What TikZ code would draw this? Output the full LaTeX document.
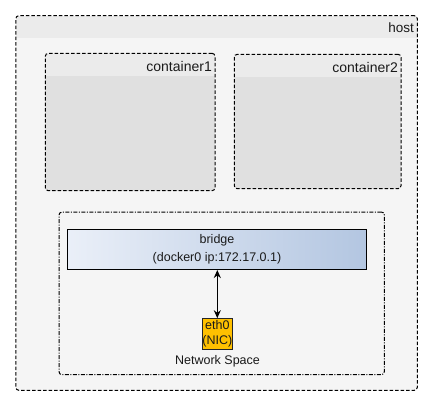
\documentclass[tikz,border=0pt]{standalone}
\usepackage{fontspec}
\setmainfont{Liberation Sans}
\usetikzlibrary{arrows.meta}
\definecolor{bandgray}{HTML}{EBEBEB}
\definecolor{hostbody}{HTML}{F5F5F5}
\definecolor{contbody}{HTML}{E0E0E0}
\definecolor{bridgeL}{HTML}{EAEFF8}
\definecolor{bridgeR}{HTML}{B3C6E1}
\definecolor{nicfill}{HTML}{FFC000}
\definecolor{txt}{HTML}{1A1A1A}
\tikzset{
  groupbox/.style={draw=black, line width=1pt, dash pattern=on 3.5pt off 2pt, rounded corners=3pt, inner sep=0pt},
  netbox/.style={draw=black, line width=1pt, dash pattern=on 4pt off 1.5pt on 1pt off 1.5pt, rounded corners=3pt, fill=hostbody, inner sep=0pt},
  bridgebox/.style={draw=black, line width=1pt, left color=bridgeL, right color=bridgeR, inner sep=0pt, align=center, text=txt, font=\fontsize{12.5}{18}\selectfont},
  nicbox/.style={draw=black!85, line width=1pt, fill=nicfill, inner sep=0pt, align=center, text=txt, font=\fontsize{12.5}{14.5}\selectfont},
  titletext/.style={text=txt, inner sep=0pt, anchor=east},
  link/.style={line width=1.2pt, {Stealth[length=8pt,width=7pt]}-{Stealth[length=8pt,width=7pt]}}
}
\begin{document}
\begin{tikzpicture}[x=1pt,y=-1pt]
\useasboundingbox (0,0) rectangle (433,405);
% host
\node[minimum width=401.5pt, minimum height=374.6pt, inner sep=0pt] (host) at (216.55,203) {};
\begin{scope}
\clip[rounded corners=3pt] (host.north west) rectangle (host.south east);
\fill[hostbody] (host.north west) rectangle (host.south east);
\fill[bandgray] (host.north west) rectangle ([yshift=-22pt]host.north east);
\end{scope}
\node[groupbox, minimum width=401.5pt, minimum height=374.6pt] at (host) {};
\node[titletext, font=\fontsize{13.5}{16}\selectfont] (hostlabel) at (414,27.5) {host};
% container1
\node[minimum width=169.7pt, minimum height=137.4pt, inner sep=0pt] (c1) at (130.15,122) {};
\begin{scope}
\clip[rounded corners=3pt] (c1.north west) rectangle (c1.south east);
\fill[contbody] (c1.north west) rectangle (c1.south east);
\fill[bandgray] (c1.north west) rectangle ([yshift=-22.5pt]c1.north east);
\end{scope}
\node[groupbox, minimum width=169.7pt, minimum height=137.4pt] at (c1) {};
\node[titletext, font=\fontsize{14}{16}\selectfont] (c1label) at (212,66) {container1};
% container2
\node[minimum width=166.7pt, minimum height=134.4pt, inner sep=0pt] (c2) at (317.65,121.5) {};
\begin{scope}
\clip[rounded corners=3pt] (c2.north west) rectangle (c2.south east);
\fill[contbody] (c2.north west) rectangle (c2.south east);
\fill[bandgray] (c2.north west) rectangle ([yshift=-23pt]c2.north east);
\end{scope}
\node[groupbox, minimum width=166.7pt, minimum height=134.4pt] at (c2) {};
\node[titletext, font=\fontsize{14}{16}\selectfont] (c2label) at (398,67.5) {container2};
% network space
\node[netbox, minimum width=325.3pt, minimum height=162.7pt] (net) at (221.65,293.35) {};
\node[bridgebox, minimum width=299.4pt, minimum height=40.2pt] (bridge) at (217,249.4) {bridge\\(docker0 ip:172.17.0.1)};
\node[nicbox, minimum width=30pt, minimum height=30.3pt] (eth) at (217.3,333.85) {eth0\\(NIC)};
\node[text=txt, inner sep=0pt, font=\fontsize{12.5}{14}\selectfont] (netlabel) at (217.5,361) {Network Space};
\draw[link] (bridge.south -| eth.north) -- (eth.north);
\end{tikzpicture}
\end{document}
